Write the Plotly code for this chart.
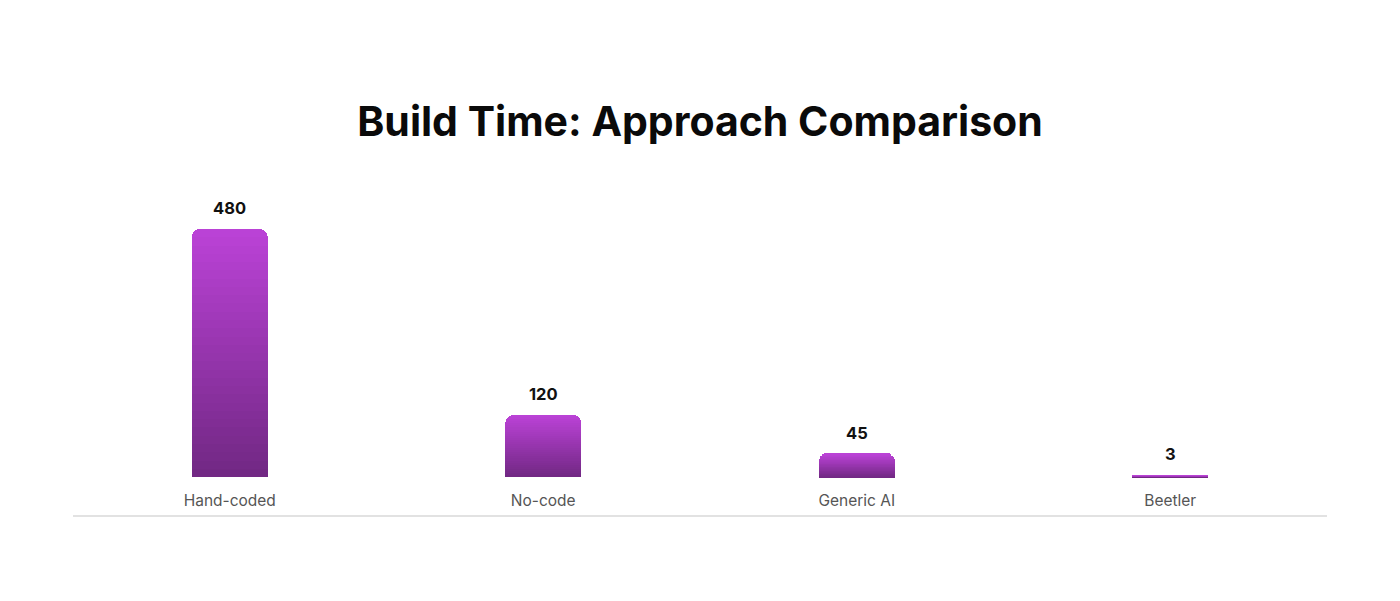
import plotly.graph_objects as go

# data
approaches = ["Hand-coded", "No-code", "Generic AI", "Beetler"]
build_time = [480, 120, 45, 3]

# gradient ends (bottom -> top)
color_bottom = (114, 40, 132)
color_top = (186, 66, 214)
n_steps = 30


def mix(t):
    r, g, b = [round(a + (c - a) * t) for a, c in zip(color_bottom, color_top)]
    return f"rgb({r},{g},{b})"


fig = go.Figure()

# stack thin slices of each bar to fake a vertical gradient
for i in range(n_steps):
    fig.add_trace(go.Bar(
        x=approaches,
        y=[v / n_steps for v in build_time],
        marker=dict(color=mix(i / (n_steps - 1)), line=dict(width=0)),
        hoverinfo="skip",
        showlegend=False,
    ))

# value labels above bars
for cat, val in zip(approaches, build_time):
    fig.add_annotation(
        x=cat, y=val, text=f"<b>{val}</b>",
        showarrow=False, yanchor="bottom", yshift=9,
        font=dict(family="Inter", size=16.5, color="#111111"),
    )

fig.update_layout(
    width=1384,
    height=585,
    barmode="stack",
    bargap=0.758,
    barcornerradius=8,
    plot_bgcolor="white",
    paper_bgcolor="white",
    margin=dict(l=65, r=65, t=172, b=78),
    title=dict(
        text="<b>Build Time: Approach Comparison</b>",
        x=0.5, xanchor="center",
        y=0.805, yanchor="middle",
        font=dict(family="Inter", size=41, color="#0a0a0a"),
    ),
    xaxis=dict(
        showline=True, linecolor="#e2e2e2", linewidth=2,
        showgrid=False, ticks="",
        ticklabelposition="inside",
        ticklabelstandoff=6,
        tickfont=dict(family="Inter", size=15.5, color="#555555"),
    ),
    yaxis=dict(
        range=[-73.5, 575],
        visible=False,
        showgrid=False,
        zeroline=False,
    ),
)

fig.write_html("out.html")
